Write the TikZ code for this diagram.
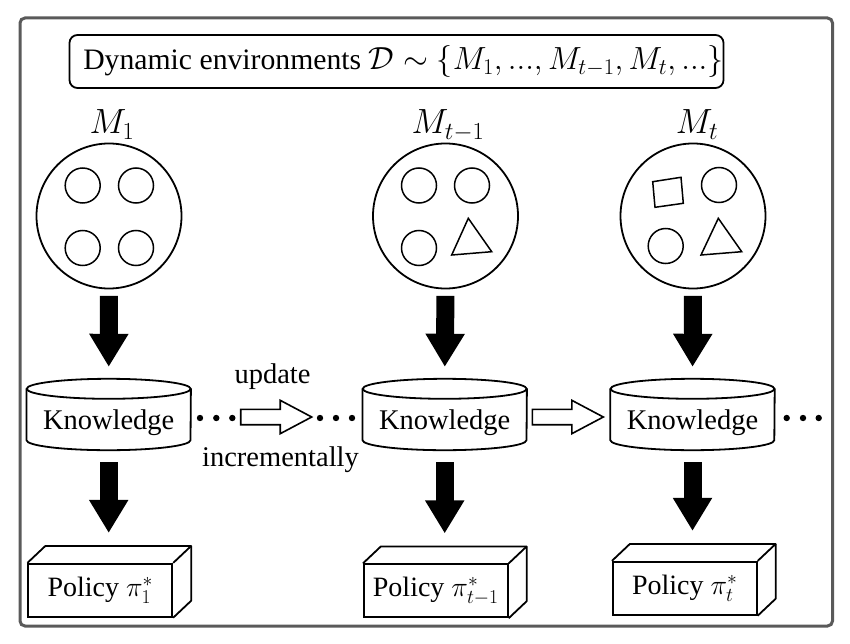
\RequirePackage{fix-cm}
\documentclass[tikz,border=0pt]{standalone}
\usepackage[no-math]{fontspec}
\setmainfont{Liberation Serif}
\usetikzlibrary{arrows.meta,calc}
\definecolor{framegray}{HTML}{5A5A5A}
\newcommand{\cylout}[1]{%
  \draw[line width=1.8pt] ($(#1.north west)+(0,10)$) -- ($(#1.south west)+(0,-10)$)
     arc[start angle=180,end angle=0,x radius=82,y radius=10] -- ($(#1.north east)+(0,10)$);
  \draw[line width=1.8pt] ($(#1.north)+(0,10)$) ellipse [x radius=82,y radius=10];}
\newcommand{\boxdepth}[1]{%
  \draw[line width=1.8pt,line join=round] (#1.north west) -- ++(18,-17) -- ($(#1.north east)+(18,-17)$)
     -- ($(#1.south east)+(18,-17)$) -- (#1.south east);
  \draw[line width=1.8pt] (#1.north east) -- ++(18,-17);}
\newcommand{\hollowarr}[1]{%
  \draw[line width=1.6pt,fill=white] ($(#1)+(0,-7.7)$) -- ++(39.5,0) -- ++(0,-9)
     -- ($(#1)+(71,0)$) -- ($(#1)+(39.5,16.7)$) -- ++(0,-9) -- ($(#1)+(0,7.7)$) -- cycle;}
\begin{document}
\begin{tikzpicture}[x=1pt,y=-1pt,
  txt/.style={font=\fontsize{28.5}{34}\selectfont, inner sep=0},
  lbl/.style={font=\fontsize{35}{40}\selectfont, anchor=base, inner sep=0},
  env/.style={circle, draw, line width=1.8pt, minimum size=145pt, inner sep=0},
  obj/.style={circle, draw, line width=1.5pt, minimum size=35pt, inner sep=0},
  tri/.style={draw, line width=1.5pt, line join=miter},
  kn/.style={minimum width=164pt, minimum height=71pt, inner sep=0},
  pol/.style={draw, line width=1.8pt, minimum width=144pt, minimum height=53pt, inner sep=0, font=\fontsize{28}{34}\selectfont},
  bigarrow/.style={line width=18pt, -{Triangle[width=37pt,length=33pt]}},
  dotc/.style={circle, fill=black, minimum size=6.4pt, inner sep=0}
]
\useasboundingbox (0,0) rectangle (850,644);
\draw[draw=framegray, line width=3pt, rounded corners=5pt] (20,18) rectangle (832.5,626);

% title
\node[draw, line width=1.8pt, rounded corners=8pt, minimum width=653pt, minimum height=53pt, inner sep=0,
      font=\fontsize{29.7}{34}\selectfont] (title) at (396.5,61.5)
  {\hspace*{13.8pt}Dynamic environments {\fontsize{32}{36}\selectfont$\mathcal{D}\sim\{M_1, ..., M_{t-1}, M_t, ...\}$}};

% environments
\node[env] (m1) at (109,216) {};
\node[env] (m2) at (445.5,216) {};
\node[env] (m3) at (693,216) {};
\node[lbl] (l1) at (112,134) {$M_1$};
\node[lbl] (l2) at (448,134) {$M_{t-1}$};
\node[lbl] (l3) at (697,134) {$M_t$};

% objects in M1
\node[obj] (o11) at (82.7,185.5) {};
\node[obj] (o12) at (136,185.5) {};
\node[obj] (o13) at (82.7,248) {};
\node[obj] (o14) at (136,248) {};
% objects in M_{t-1}
\node[obj] (o21) at (419,185.5) {};
\node[obj] (o22) at (472,185.5) {};
\node[obj] (o23) at (419,248) {};
\draw[tri] (451.7,255) -- (491.7,251.7) -- (468.3,218.3) -- cycle;
% objects in M_t
\draw[tri] (652.7,181.7) -- (681,177.3) -- (683.3,203.3) -- (655,207.3) -- cycle;
\node[obj] (o32) at (719,185) {};
\node[obj] (o33) at (665.7,246) {};
\draw[tri] (701,255) -- (741.7,251.7) -- (718.3,218.3) -- cycle;

% knowledge cylinders
\node[kn] (k1) at (108.7,414.5) {};
\node[kn] (k2) at (444.7,414.5) {};
\node[kn] (k3) at (692.5,414.5) {};
\cylout{k1}\cylout{k2}\cylout{k3}
\node[txt] (kt1) at ($(k1)+(0,8.5)$) {Knowledge};
\node[txt] (kt2) at ($(k2)+(0,8.5)$) {Knowledge};
\node[txt] (kt3) at ($(k3)+(0,8.5)$) {Knowledge};

% policies
\node[pol] (p1) at (100.3,590.3) {Policy $\pi_1^*$};
\node[pol] (p2) at (435.8,590.8) {Policy $\pi_{t-1}^*$};
\node[pol] (p3) at (684.8,588.3) {Policy $\pi_t^*$};
\boxdepth{p1}\boxdepth{p2}\boxdepth{p3}

% big arrows
\foreach \i in {1,2,3}{
  \draw[bigarrow, shorten <=6.5pt, shorten >=12pt] (m\i.south) -- (k\i.north);
  \draw[bigarrow, shorten <=12pt, shorten >=30pt] (k\i.south) -- (k\i.south |- p\i.north);
}

% update arrows
\coordinate (a1) at (240.7,417);
\coordinate (a2) at (532.3,417);
\hollowarr{a1}
\hollowarr{a2}
\node[txt] (up) at (272.5,377) {update};
\node[txt] (inc) at (280.5,459.5) {incrementally};

% dots
\foreach \x in {200,216.3,232.3,320,336,352,786.7,803,818.7}
  \node[dotc] at (\x,418) {};
\end{tikzpicture}
\end{document}
